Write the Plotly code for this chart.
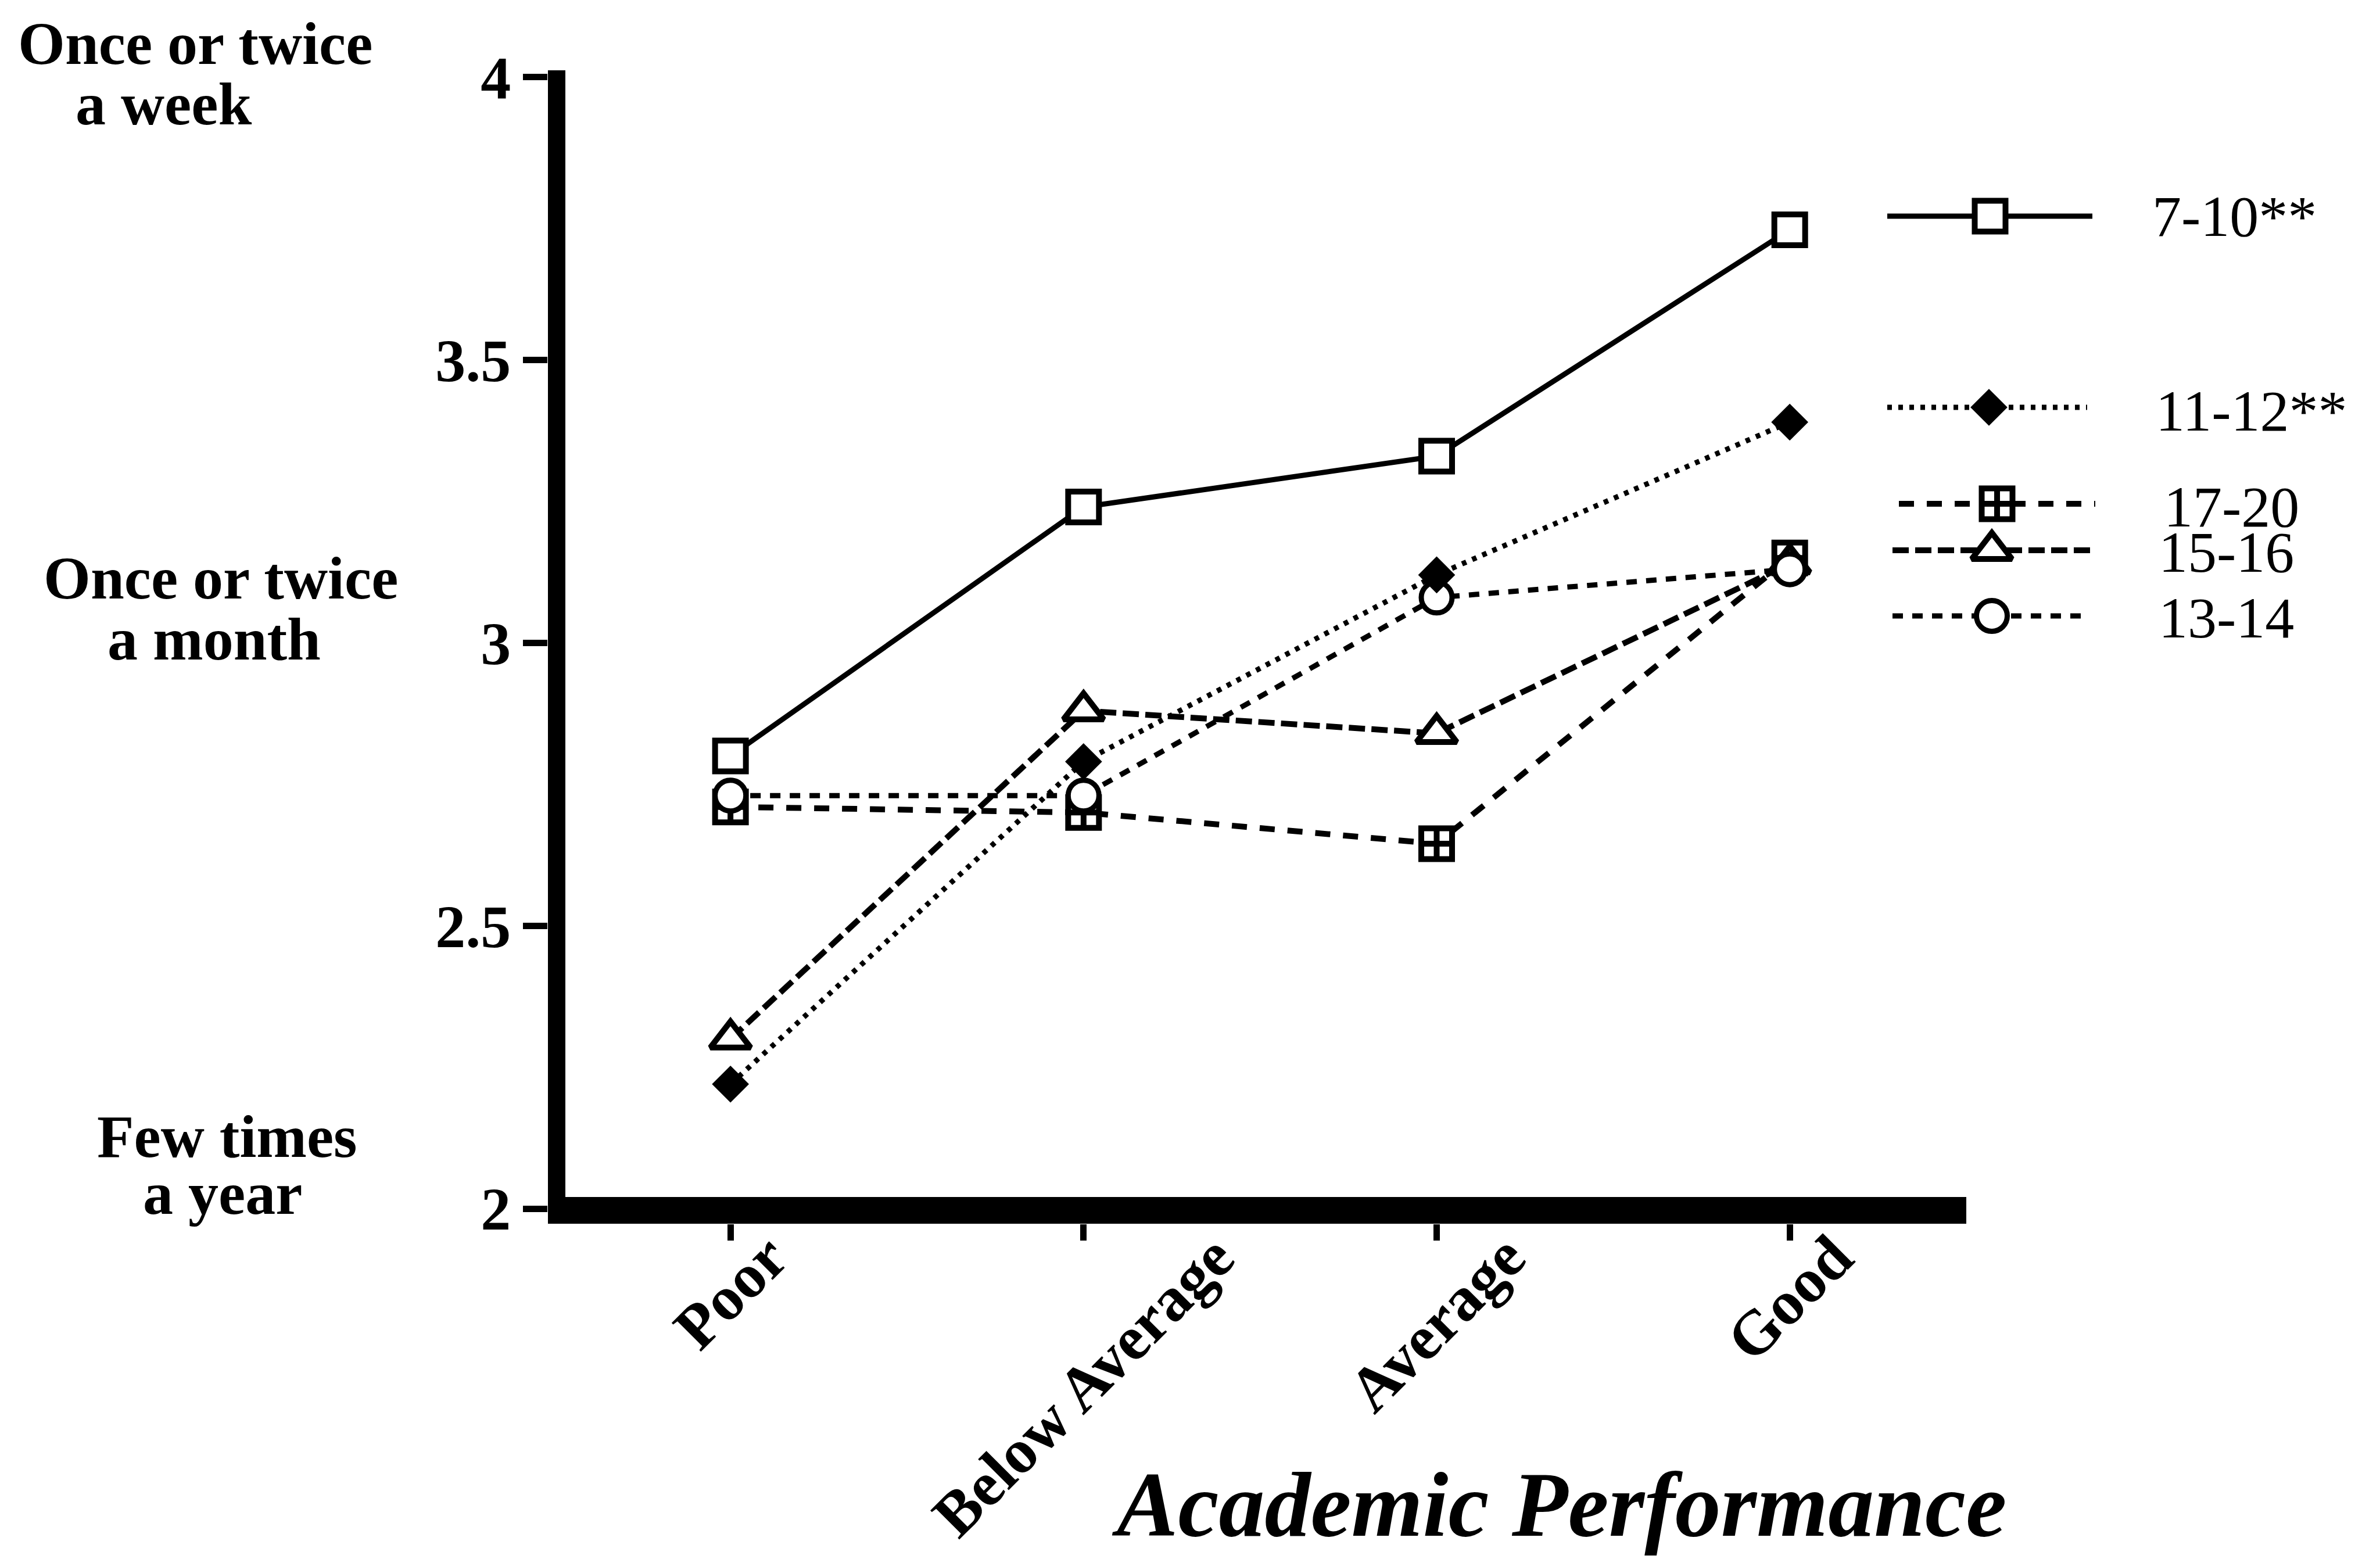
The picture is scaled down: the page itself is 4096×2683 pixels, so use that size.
import plotly.graph_objects as go

# ---- data -------------------------------------------------------------
categories = ["Poor", "Below Average", "Average", "Good"]

age_7_10 = [2.80, 3.24, 3.33, 3.73]
age_11_12 = [2.22, 2.79, 3.12, 3.39]
age_13_14 = [2.73, 2.73, 3.08, 3.13]
age_15_16 = [2.30, 2.88, 2.84, 3.14]
age_17_20 = [2.71, 2.70, 2.645, 3.15]

series_names = ["7-10**", "11-12**", "17-20", "15-16", "13-14"]

y_tick_values = [2, 2.5, 3, 3.5, 4]
y_tick_labels = ["2", "2.5", "3", "3.5", "4"]

level_labels = [("Once or twice", "a week"),
                ("Once or twice", "a month"),
                ("Few times", "a year")]
x_title = "Academic Performance"

# ---- page geometry (pixels) --------------------------------------------
W, H = 4096, 2683
PL, PR, PT, PB = 943, 3384, 121, 2106      # frame of the main plot
Y_BAR_W = 30                                 # thick vertical axis bar
X_BAR_H = 46                                 # thick horizontal axis bar
X_RANGE = [-0.517, 3.5]
Y_RANGE = [1.9733, 4.0118]

SERIF = "Liberation Serif"

# line / marker style per age group
styles = {
    "7-10**": dict(dash="solid", width=9, symbol="square", size=53,
                   fill="white", lw=10),
    "11-12**": dict(dash="8px,11px", width=9, symbol="diamond", size=49,
                    fill="black", lw=0),
    "17-20": dict(dash="26px,22px", width=10, symbol="square-cross", size=53,
                  fill="white", lw=10),
    "15-16": dict(dash="28px,11px", width=10, symbol="triangle-up", size=60,
                  fill="white", lw=10),
    "13-14": dict(dash="18px,16px", width=9, symbol="circle", size=53,
                  fill="white", lw=9),
}

values = {
    "7-10**": age_7_10,
    "11-12**": age_11_12,
    "13-14": age_13_14,
    "15-16": age_15_16,
    "17-20": age_17_20,
}

fig = go.Figure()

# drawing order: later traces sit on top
for name in ["17-20", "15-16", "13-14", "11-12**", "7-10**"]:
    s = styles[name]
    fig.add_trace(go.Scatter(
        x=categories, y=values[name], mode="lines+markers", name=name,
        line=dict(color="black", width=s["width"], dash=s["dash"]),
        marker=dict(symbol=s["symbol"], size=s["size"], color=s["fill"],
                    line=dict(color="black", width=s["lw"])),
        xaxis="x", yaxis="y", showlegend=False, cliponaxis=False,
    ))

# ---- hand-built key (pixel space on the overlay axes) ------------------
key_rows = {
    # name: (x_start, x_end, x_marker, y_line, text_x, text_baseline)
    "7-10**": (3248, 3601, 3425, 372, 3702, 404),
    "11-12**": (3248, 3592, 3423, 701, 3708, 739),
    "17-20": (3268, 3606, 3437, 867, 3722, 904),
    "15-16": (3257, 3599, 3428, 947, 3713, 982),
    "13-14": (3257, 3587, 3428, 1060, 3713, 1095),
}
KEY_FS = 100

annotations = []
for name in series_names:
    s = styles[name]
    x0, x1, xm, yl, tx, tb = key_rows[name]
    fig.add_trace(go.Scatter(
        x=[x0, x1], y=[yl, yl], mode="lines",
        line=dict(color="black", width=s["width"], dash=s["dash"]),
        xaxis="x2", yaxis="y2", showlegend=False, hoverinfo="skip"))
    fig.add_trace(go.Scatter(
        x=[xm], y=[yl], mode="markers",
        marker=dict(symbol=s["symbol"], size=s["size"], color=s["fill"],
                    line=dict(color="black", width=s["lw"])),
        xaxis="x2", yaxis="y2", showlegend=False, hoverinfo="skip"))
    annotations.append(dict(
        x=tx, y=tb - 0.32 * KEY_FS, xref="x2", yref="y2",
        text=name, showarrow=False, xanchor="left", yanchor="middle",
        font=dict(family=SERIF, size=KEY_FS, color="black")))

# ---- frequency labels at the left --------------------------------------
LEVEL_FS = 104
level_pos = [  # (cx line1, baseline1, cx line2, baseline2)
    (336, 108, 281, 212),
    (380, 1028, 368, 1133),
    (391, 1989, 383, 2087),
]
for (l1, l2), (c1, b1, c2, b2) in zip(level_labels, level_pos):
    for txt, cx, bl in ((l1, c1, b1), (l2, c2, b2)):
        annotations.append(dict(
            x=cx, y=bl - 0.32 * LEVEL_FS, xref="x2", yref="y2",
            text=txt, showarrow=False, xanchor="center", yanchor="middle",
            font=dict(family=SERIF, size=LEVEL_FS, color="black",
                      weight="bold")))

# ---- slanted category labels, centred under each tick -------------------
CAT_FS = 108
CAT_TOP = 2100
for cat in categories:
    annotations.append(dict(
        x=cat, y=CAT_TOP, xref="x", yref="y2", text=cat, showarrow=False,
        textangle=-45, xanchor="center", yanchor="top",
        font=dict(family=SERIF, size=CAT_FS, color="black", weight="bold")))

# ---- axis title ----------------------------------------------------------
TITLE_FS = 158
annotations.append(dict(
    x=2683, y=2640 - 0.32 * TITLE_FS, xref="x2", yref="y2",
    text=x_title, showarrow=False, xanchor="center", yanchor="middle",
    font=dict(family=SERIF, size=TITLE_FS, color="black",
              style="italic", weight="bold")))

# ---- thick axis bars ---------------------------------------------------
shapes = [
    dict(type="rect", xref="x2", yref="y2", x0=PL, x1=PL + Y_BAR_W,
         y0=PT, y1=PB, fillcolor="black", line=dict(width=0), layer="above"),
    dict(type="rect", xref="x2", yref="y2", x0=PL, x1=PR,
         y0=PB - X_BAR_H, y1=PB, fillcolor="black", line=dict(width=0),
         layer="above"),
]

tick_font = dict(family=SERIF, size=104, color="black", weight="bold")

fig.update_layout(
    width=W, height=H,
    margin=dict(l=0, r=0, t=0, b=0),
    paper_bgcolor="white", plot_bgcolor="rgba(0,0,0,0)",
    showlegend=False,
    annotations=annotations,
    shapes=shapes,
    xaxis=dict(
        domain=[PL / W, PR / W], range=X_RANGE, anchor="y",
        showgrid=False, zeroline=False, showline=False,
        ticks="outside", ticklen=28, tickwidth=11, tickcolor="black",
        showticklabels=False, automargin=False, fixedrange=True,
    ),
    yaxis=dict(
        domain=[1 - PB / H, 1 - PT / H], range=Y_RANGE, anchor="x",
        tickmode="array", tickvals=y_tick_values, ticktext=y_tick_labels,
        showgrid=False, zeroline=False, showline=False,
        ticks="outside", ticklen=42, tickwidth=11, tickcolor="black",
        tickfont=tick_font, automargin=False, fixedrange=True,
    ),
    xaxis2=dict(domain=[0, 1], range=[0, W], anchor="y2", visible=False,
                fixedrange=True),
    yaxis2=dict(domain=[0, 1], range=[H, 0], anchor="x2", visible=False,
                fixedrange=True),
)

fig.write_html("out.html")
